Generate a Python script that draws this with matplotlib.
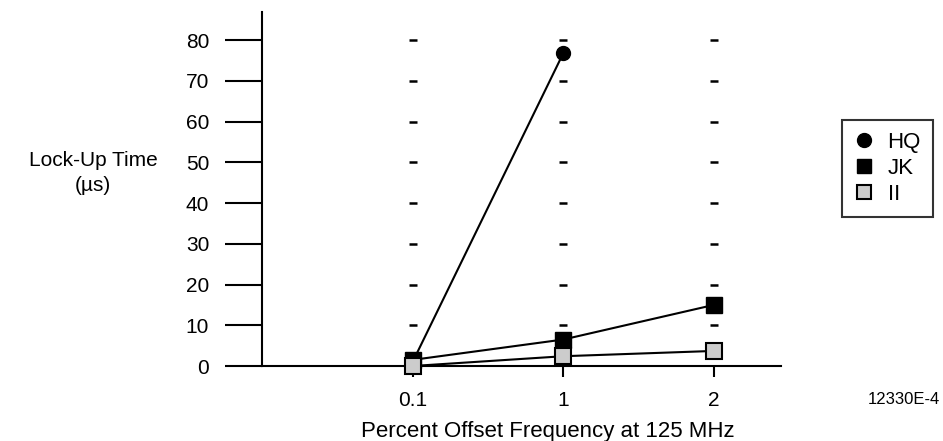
import numpy as np
import matplotlib.pyplot as plt

plt.rcParams['font.family'] = ['Liberation Sans', 'DejaVu Sans']

categories = ['0.1', '1', '2']
hq = [1.0, 76.8, np.nan]
jk = [1.5, 6.5, 15.0]
ii = [0.0, 2.4, 3.7]
yticks = [0, 10, 20, 30, 40, 50, 60, 70, 80]

x = np.arange(1, len(categories) + 1)

fig = plt.figure(figsize=(9.43, 4.41), dpi=100)
ax = fig.add_axes([262/943, 1 - 366/441, (781 - 262)/943, (366 - 12)/441])

# small dash marks at each category / gridline level
for xi in x:
    ax.plot([xi] * (len(yticks) - 1), yticks[1:], ls='none', marker='_',
            ms=6, mew=1.8, color='black', zorder=1)

ax.plot(x, hq, color='black', lw=1.5, marker='o', ms=10,
        mfc='black', mec='black', label='HQ', zorder=3, clip_on=False)
ax.plot(x, jk, color='black', lw=1.5, marker='s', ms=12,
        mfc='black', mec='black', label='JK', zorder=4, clip_on=False)
ax.plot(x, ii, color='black', lw=1.5, marker='s', ms=11, mew=1.5,
        mfc='#cccccc', mec='black', label='II', zorder=5, clip_on=False)

ax.set_xlim(0, 3.445)
ax.set_ylim(0, 86.9)
ax.set_xticks(x)
ax.set_xticklabels(categories)
ax.set_yticks(yticks)

for s in ['top', 'right']:
    ax.spines[s].set_visible(False)
ax.spines['left'].set_linewidth(1.5)
ax.spines['bottom'].set_linewidth(1.5)

ax.tick_params(axis='y', direction='out', length=27, width=1.5, pad=11,
               labelsize=15)
ax.tick_params(axis='x', direction='out', length=8, width=1.5, pad=10,
               labelsize=15)

ax.set_xlabel('Percent Offset Frequency at 125 MHz', fontsize=16,
              va='center')
ax.xaxis.set_label_coords((548 - 262) / 519, (366 - 431) / 354)
fig.text(93/943, 1 - 173/441, 'Lock-Up Time\n(\u00b5s)', ha='center',
         va='center', fontsize=15, linespacing=1.4)
fig.text(940/943, 1 - 399/441, '12330E-4', ha='right', va='center',
         fontsize=12)

leg = fig.legend(loc='upper left', bbox_to_anchor=(842/943, 1 - 120/441),
                 frameon=True, fancybox=False, edgecolor='black',
                 fontsize=16, handlelength=0.9, handletextpad=0.6,
                 borderpad=0.55, labelspacing=0.22, markerscale=1.0,
                 borderaxespad=0)
leg.get_frame().set_linewidth(1.5)
for h in leg.get_lines():
    h.set_linestyle('none')
    h.set_markersize(10)

fig.savefig('out.png', dpi=100)
